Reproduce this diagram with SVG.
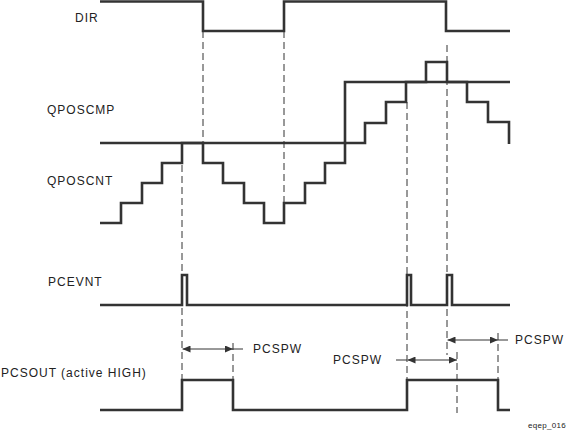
<svg xmlns="http://www.w3.org/2000/svg" width="573" height="432" viewBox="0 0 573 432">
  <style>
    .sig { fill: none; stroke: #333; stroke-width: 2.6; stroke-linejoin: miter; stroke-linecap: butt; }
    .dash { fill: none; stroke: #333; stroke-width: 1; stroke-dasharray: 7 4; }
    .dim { fill: none; stroke: #333; stroke-width: 1; }
    .lbl { font-family: "Liberation Sans", Arial, sans-serif; font-size: 12px; fill: #222; letter-spacing: 1px; }
    .tag { font-family: "Liberation Sans", Arial, sans-serif; font-size: 8px; fill: #222; letter-spacing: 0.3px; }
  </style>
  <defs>
    <marker id="ah" viewBox="0 0 8 7" refX="8" refY="3.5" markerWidth="8" markerHeight="7" markerUnits="userSpaceOnUse" orient="auto-start-reverse">
      <path d="M0,0 L8,3.5 L0,7 z" fill="#333"/>
    </marker>
  </defs>
  <rect width="573" height="432" fill="#fff"/>

  <g id="DIR">
    <text class="lbl" x="75" y="22">DIR</text>
    <path class="sig" d="M100,1.5 H203 V31 H284 V1.5 H446 V31 H510"/>
  </g>
  <g id="QPOSCMP">
    <text class="lbl" x="47" y="114">QPOSCMP</text>
    <path class="sig" d="M100,143 H345 V82 H510"/>
  </g>
  <g id="QPOSCNT">
    <text class="lbl" x="47" y="185">QPOSCNT</text>
    <path class="sig" d="M100,223 H121 V203 H142 V183 H162 V163 H182 V143 H203 V163 H223 V183 H244 V203 H264 V223 H284 V203 H305 V183 H325 V163 H345 V143 H365 V123 H386 V102 H406 V82 H426 V62 H447 V82 H467 V102 H488 V122 H509 V144"/>
  </g>
  <g id="PCEVNT">
    <text class="lbl" x="48" y="286">PCEVNT</text>
    <path class="sig" d="M100,305 H182 V275 H187 V305 H407 V275 H411 V305 H447 V275 H452 V305 H510"/>
  </g>
  <g id="PCSOUT">
    <text class="lbl" x="1" y="377">PCSOUT (active HIGH)</text>
    <path class="sig" d="M100,410 H182 V380 H233 V410 H407 V380 H498 V410 H510"/>
  </g>

  <g id="connectors">
    <line class="dash" x1="182" y1="143" x2="182" y2="380"/>
    <line class="dash" x1="203" y1="31" x2="203" y2="143"/>
    <line class="dash" x1="284" y1="31" x2="284" y2="203"/>
    <line class="dash" x1="407" y1="102" x2="407" y2="380"/>
    <line class="dash" x1="447" y1="45" x2="447" y2="355"/>
    <line class="dash" x1="233" y1="343" x2="233" y2="380"/>
    <line class="dash" x1="457" y1="352" x2="457" y2="413"/>
    <line class="dash" x1="498" y1="333" x2="498" y2="380"/>

    <line class="dim" x1="182.5" y1="349" x2="233" y2="349" marker-start="url(#ah)" marker-end="url(#ah)"/>
    <line class="dim" x1="233" y1="349" x2="243" y2="349"/>
    <line class="dim" x1="447.5" y1="340" x2="498" y2="340" marker-start="url(#ah)" marker-end="url(#ah)"/>
    <line class="dim" x1="498" y1="340" x2="508" y2="340"/>
    <line class="dim" x1="396" y1="360" x2="407" y2="360"/>
    <line class="dim" x1="407.5" y1="360" x2="457" y2="360" marker-start="url(#ah)" marker-end="url(#ah)"/>
  </g>

  <g id="labels">
    <text class="lbl" x="253" y="353">PCSPW</text>
    <text class="lbl" x="515" y="344">PCSPW</text>
    <text class="lbl" x="333" y="364">PCSPW</text>
    <text class="tag" x="528" y="428">eqep_016</text>
  </g>
</svg>
